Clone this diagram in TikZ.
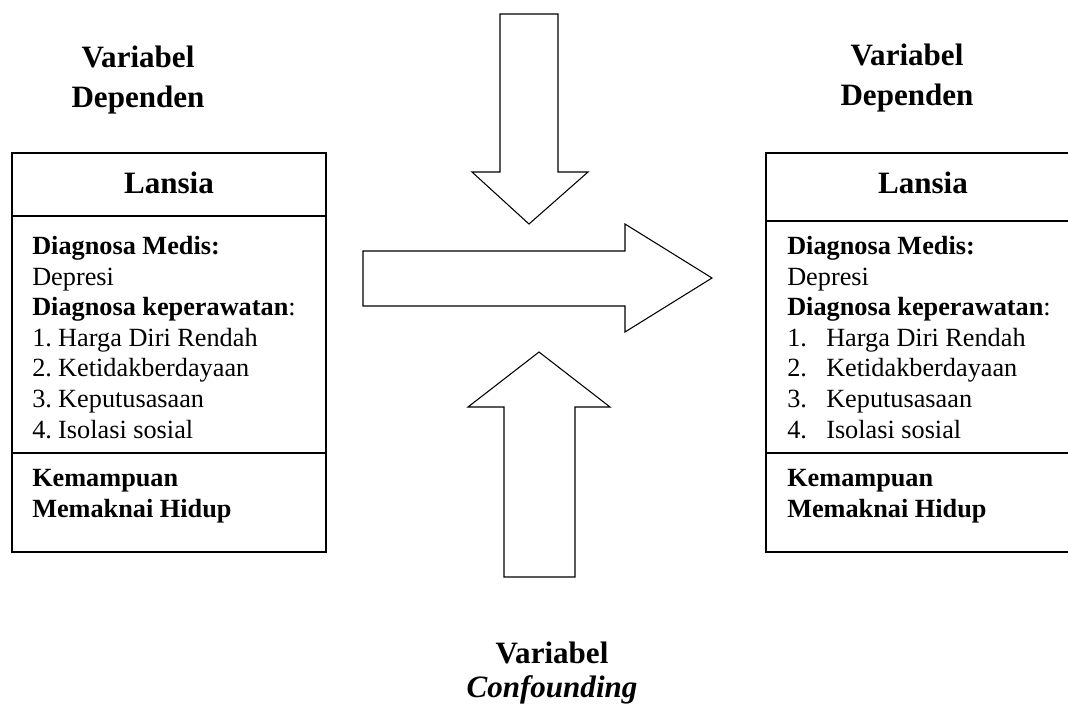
\documentclass[tikz,border=0pt]{standalone}
\usepackage{fontspec}
\setmainfont{Liberation Serif}
\usetikzlibrary{positioning}

\newcommand{\bodyfont}{\fontsize{19.7}{22.9}\selectfont}
\newcommand{\headfont}{\fontsize{23.3}{30}\selectfont\bfseries}
\newcommand{\confont}{\fontsize{23.3}{25.5}\selectfont\bfseries}
\newcommand{\num}[2]{\makebox[#1][l]{#2}}

\tikzset{
  frame/.style={line width=1pt},
  blockarrow/.style={line width=0.8pt, line join=miter},
  head/.style={font=\headfont, align=center, inner sep=0pt, anchor=base},
  body/.style={font=\bodyfont, align=left, inner sep=0pt, anchor=base west},
}

\begin{document}
\begin{tikzpicture}[x=0.75pt,y=-0.75pt]
\useasboundingbox (0,0) rectangle (1068,708);
\clip (0,0) rectangle (1068,708);

% left box (base of each text node = its last line)
\draw[frame] (12,153) rectangle (326,552);
\draw[frame] (12,216) -- (326,216) (12,453) -- (326,453);
\node[head] (depL) at (138,107) {Variabel\\Dependen};
\node[head] (lansiaL) at (169,193) {Lansia};
\node[body] (diagL) at (32,438) {\textbf{Diagnosa Medis:}\\Depresi\\\textbf{Diagnosa keperawatan}:\\
  \num{19.5pt}{1.}Harga Diri Rendah\\\num{19.5pt}{2.}Ketidakberdayaan\\
  \num{19.5pt}{3.}Keputusasaan\\\num{19.5pt}{4.}Isolasi sosial};
\node[body] (hidupL) at (32,517) {\textbf{Kemampuan}\\\textbf{Memaknai Hidup}};

% right box (runs off the page)
\draw[frame] (766,153) rectangle (1080,552);
\draw[frame] (766,221) -- (1080,221) (766,453) -- (1080,453);
\node[head] (depR) at (907,105) {Variabel\\Dependen};
\node[head] (lansiaR) at (923,193) {Lansia};
\node[body] (diagR) at (787,438) {\textbf{Diagnosa Medis:}\\Depresi\\\textbf{Diagnosa keperawatan}:\\
  \num{29.25pt}{1.}Harga Diri Rendah\\\num{29.25pt}{2.}Ketidakberdayaan\\
  \num{29.25pt}{3.}Keputusasaan\\\num{29.25pt}{4.}Isolasi sosial};
\node[body] (hidupR) at (787,517) {\textbf{Kemampuan}\\\textbf{Memaknai Hidup}};

% block arrows
\draw[blockarrow] (500,14) -- (558,14) -- (558,172) -- (588,172) -- (529,224) -- (472,172) -- (500,172) -- cycle;
\draw[blockarrow] (363,251) -- (625,251) -- (625,224) -- (712,278) -- (625,332) -- (625,306) -- (363,306) -- cycle;
\draw[blockarrow] (504,577) -- (504,407) -- (468,407) -- (539,352) -- (610,407) -- (575,407) -- (575,577) -- cycle;

\node[head, font=\confont] (conf) at (552,697) {Variabel\\\textit{Confounding}};
\end{tikzpicture}
\end{document}
